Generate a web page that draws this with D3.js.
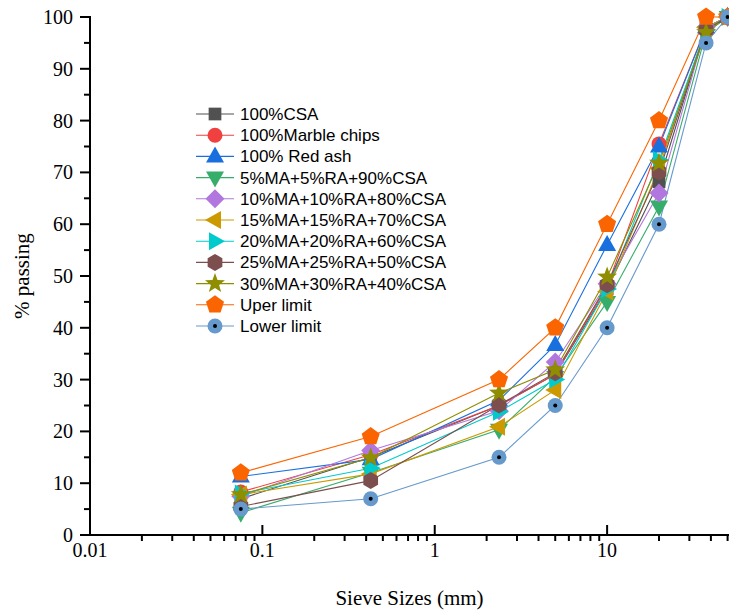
<!DOCTYPE html>
<html>
<head>
  <script src="https://d3js.org/d3.v7.min.js"></script>
  <style>
    body { margin: 0; background: #fff; }
    svg { display: block; }
  </style>
</head>
<body>
<div id="chart"></div>
<script>
  // sieve sizes (mm) and % passing for each mix
  const sieves = [0.075, 0.425, 2.36, 5, 10, 20, 37.5, 50];

  const csa100    = [7.0, 15.0, 25.0, 31.0, 47.5, 68.2, 98.0, 100];
  const marble100 = [8.3, 15.5, 25.0, 31.0, 48.0, 75.5, 98.0, 100];
  const redAsh100 = [11.3, 14.6, 26.0, 36.7, 56.0, 75.0, 98.0, 100];
  const mix5      = [4.3, 12.0, 20.3, 30.5, 45.0, 63.4, 97.0, 100];
  const mix10     = [7.5, 16.3, 24.0, 33.4, 48.5, 66.0, 98.0, 100];
  const mix15     = [7.8, 11.8, 20.9, 28.0, 47.0, 70.8, 98.0, 100];
  const mix20     = [8.0, 12.9, 23.8, 30.0, 47.5, 72.4, 97.5, 100];
  const mix25     = [5.5, 10.5, 25.1, 31.3, 48.3, 70.1, 97.5, 100];
  const mix30     = [7.8, 14.9, 27.4, 31.9, 49.8, 71.8, 97.0, 100];
  const upperLim  = [12, 19, 30, 40, 60, 80, 100, 100];
  const lowerLim  = [5, 7, 15, 25, 40, 60, 95, 100];

  const seriesNames = ["100%CSA", "100%Marble chips", "100% Red ash", "5%MA+5%RA+90%CSA",
    "10%MA+10%RA+80%CSA", "15%MA+15%RA+70%CSA", "20%MA+20%RA+60%CSA",
    "25%MA+25%RA+50%CSA", "30%MA+30%RA+40%CSA", "Uper limit", "Lower limit"];
  const seriesValues = [csa100, marble100, redAsh100, mix5, mix10, mix15, mix20, mix25, mix30, upperLim, lowerLim];
  const colors = ["#515151", "#F14040", "#1A6FDF", "#37AD6B", "#B177DE", "#CC9900",
    "#00CBCC", "#7D4E4E", "#8E8E00", "#FB6501", "#6699CC"];
  const shapes = ["square", "circle", "up", "down", "diamond", "left", "right", "hexagon", "star", "pentagon", "dotcircle"];

  const xTicks = [0.01, 0.1, 1, 10];
  const yTicks = [0, 10, 20, 30, 40, 50, 60, 70, 80, 90, 100];

  const width = 729, height = 612;
  const margin = { left: 90, top: 17, bottom: 77 };

  const svg = d3.select("#chart").append("svg")
    .attr("width", width).attr("height", height);

  const x = d3.scaleLog().domain([0.01, 50]).range([margin.left, 727.6]);
  const y = d3.scaleLinear().domain([0, 100]).range([height - margin.bottom, margin.top]);

  function polygon(n, r, rot) {
    const pts = [];
    for (let i = 0; i < n; i++) {
      const a = rot + i * 2 * Math.PI / n;
      pts.push([r * Math.sin(a), -r * Math.cos(a)]);
    }
    return "M" + pts.map(p => p[0].toFixed(2) + "," + p[1].toFixed(2)).join("L") + "Z";
  }
  function starPath(ro, ri) {
    const pts = [];
    for (let i = 0; i < 10; i++) {
      const r = i % 2 ? ri : ro;
      const a = i * Math.PI / 5;
      pts.push([r * Math.sin(a), -r * Math.cos(a)]);
    }
    return "M" + pts.map(p => p[0].toFixed(2) + "," + p[1].toFixed(2)).join("L") + "Z";
  }
  function shapePath(s) {
    switch (s) {
      case "square": return polygon(4, 9, Math.PI / 4);
      case "diamond": return polygon(4, 9.5, 0);
      case "up": return "M0,-10L9,6L-9,6Z";
      case "down": return "M0,10L9,-6L-9,-6Z";
      case "left": return "M-10,0L6,-9L6,9Z";
      case "right": return "M10,0L-6,-9L-6,9Z";
      case "hexagon": return polygon(6, 8.5, 0);
      case "pentagon": return polygon(5, 9.5, 0);
      case "star": return starPath(10.5, 4.3);
      default: return null;
    }
  }

  function drawMarker(g, s, color, cx, cy) {
    if (s === "circle" || s === "dotcircle") {
      g.append("circle").attr("cx", cx).attr("cy", cy).attr("r", 7.5).attr("fill", color);
      if (s === "dotcircle")
        g.append("circle").attr("cx", cx).attr("cy", cy).attr("r", 2).attr("fill", "#000");
    } else {
      g.append("path").attr("d", shapePath(s))
        .attr("transform", `translate(${cx},${cy})`).attr("fill", color);
    }
  }

  // axes
  const yAxis = svg.append("g").attr("transform", `translate(${margin.left},0)`);
  yAxis.append("line").attr("x1", 0).attr("x2", 0)
    .attr("y1", y(100) - 1).attr("y2", y(0) + 1).attr("stroke", "#000").attr("stroke-width", 2);
  d3.range(0, 101, 5).forEach(v => {
    const major = v % 10 === 0;
    yAxis.append("line").attr("x1", major ? -10 : -6).attr("x2", 0)
      .attr("y1", y(v)).attr("y2", y(v)).attr("stroke", "#000").attr("stroke-width", 2);
  });
  yAxis.selectAll("text.yt").data(yTicks).join("text")
    .attr("x", -17).attr("y", d => y(d) + 7)
    .attr("text-anchor", "end")
    .attr("font-family", "Liberation Serif, Times New Roman, serif")
    .attr("font-size", 20).text(d => d);

  const xAxis = svg.append("g").attr("transform", `translate(0,${y(0)})`);
  xAxis.append("line").attr("x1", margin.left - 1).attr("x2", width)
    .attr("y1", 0).attr("y2", 0).attr("stroke", "#000").attr("stroke-width", 2);
  const minor = [];
  [0.01, 0.1, 1, 10].forEach(d => { for (let k = 2; k <= 9; k++) if (d * k <= 50) minor.push(d * k); });
  minor.forEach(v => {
    xAxis.append("line").attr("x1", x(v)).attr("x2", x(v))
      .attr("y1", 0).attr("y2", 6).attr("stroke", "#000").attr("stroke-width", 2);
  });
  xTicks.forEach(v => {
    xAxis.append("line").attr("x1", x(v)).attr("x2", x(v))
      .attr("y1", 0).attr("y2", -10).attr("stroke", "#000").attr("stroke-width", 2);
  });
  xAxis.selectAll("text.xt").data(xTicks).join("text")
    .attr("x", d => x(d)).attr("y", 22)
    .attr("text-anchor", "middle")
    .attr("font-family", "Liberation Serif, Times New Roman, serif")
    .attr("font-size", 20).text(d => d);

  svg.append("text")
    .attr("x", (margin.left + width) / 2).attr("y", 605)
    .attr("text-anchor", "middle")
    .attr("font-family", "Liberation Serif, Times New Roman, serif")
    .attr("font-size", 21).text("Sieve Sizes (mm)");
  svg.append("text")
    .attr("transform", `translate(29,${(y(0) + y(100)) / 2}) rotate(-90)`)
    .attr("text-anchor", "middle")
    .attr("font-family", "Liberation Serif, Times New Roman, serif")
    .attr("font-size", 21).text("% passing");

  // series
  const line = d3.line().x((d, i) => x(sieves[i])).y(d => y(d));
  const plot = svg.append("g");
  seriesValues.forEach((vals, si) => {
    plot.append("path").datum(vals).attr("d", line)
      .attr("fill", "none").attr("stroke", colors[si]).attr("stroke-width", 1.1);
  });
  seriesValues.forEach((vals, si) => {
    const g = plot.append("g");
    vals.forEach((v, i) => drawMarker(g, shapes[si], colors[si], x(sieves[i]), y(v)));
  });

  // legend
  const legend = svg.append("g");
  seriesNames.forEach((name, i) => {
    const cy = 114 + i * 21.2;
    legend.append("line").attr("x1", 196).attr("x2", 234).attr("y1", cy).attr("y2", cy)
      .attr("stroke", colors[i]).attr("stroke-width", 1.1);
    drawMarker(legend, shapes[i], colors[i], 215, cy);
    legend.append("text").attr("x", 240).attr("y", cy + 6)
      .attr("font-family", "Liberation Sans, Arial, sans-serif")
      .attr("font-size", 17).text(name);
  });
</script>
</body>
</html>
